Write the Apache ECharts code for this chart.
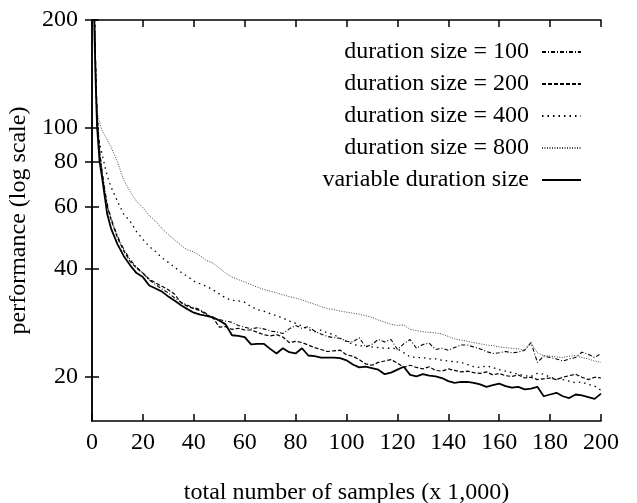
<!DOCTYPE html>
<html>
<head>
<meta charset="utf-8">
<script src="https://cdn.jsdelivr.net/npm/echarts@6/dist/echarts.min.js"></script>
<style>
  html, body { margin: 0; padding: 0; background: #fff; }
  #main { width: 637px; height: 503px; }
</style>
</head>
<body>
<div id="main"></div>
<script>
// sample positions (x 1,000)
var samples = [0.5, 1, 1.5, 2, 3, 4, 5, 6, 7.5,
  10, 12.5, 15, 17.5, 20, 22.5, 25, 27.5, 30, 32.5, 35, 37.5, 40, 42.5, 45, 47.5,
  50, 52.5, 55, 57.5, 60, 62.5, 65, 67.5, 70, 72.5, 75, 77.5, 80, 82.5, 85, 87.5,
  90, 92.5, 95, 97.5, 100, 102.5, 105, 107.5, 110, 112.5, 115, 117.5, 120, 122.5,
  125, 127.5, 130, 132.5, 135, 137.5, 140, 142.5, 145, 147.5, 150, 152.5, 155,
  157.5, 160, 162.5, 165, 167.5, 170, 172.5, 175, 177.5, 180, 182.5, 185, 187.5,
  190, 192.5, 195, 197.5, 200];

var dur100 = [330, 210, 145, 110, 86, 75, 67, 61, 55.5,
  49.5, 45.5, 42.5, 40.5, 39, 37.3, 36.2, 35.2, 34.3, 33.2, 32.3, 31.7, 31.2, 30.8, 30.0, 29.1,
  28.9, 28.6, 28.4, 27.8, 27.5, 27.2, 27.4, 27.2, 26.8, 26.7, 26.4, 27.2, 27.8, 27.3, 27.6, 26.8,
  26.3, 25.9, 25.7, 25.6, 25.1, 25.0, 25.7, 24.2, 24.6, 25.4, 25.0, 25.4, 23.8, 24.7,
  25.4, 24.0, 24.6, 24.8, 23.8, 24.0, 23.7, 24.1, 24.5, 24.5, 24.2, 23.9, 23.5,
  23.2, 23.3, 23.5, 23.3, 23.4, 23.7, 24.9, 21.9, 22.8, 22.6, 22.4, 22.1, 22.4,
  22.6, 23.4, 23.1, 22.6, 23.2];

var dur200 = [320, 200, 140, 108, 85, 74, 66, 60, 55,
  49, 45, 42, 40.3, 39, 37.5, 36.6, 35.8, 35, 34, 32.2, 31.5, 31, 30.6, 29.8, 29.3,
  27.5, 27.6, 27.1, 27.3, 27.0, 27.0, 26.6, 26.2, 26.0, 26.2, 25.8, 24.9, 25.1, 24.9, 24.5, 24.1,
  23.8, 23.5, 23.6, 23.7, 23.0, 22.8, 22.3, 21.7, 21.5, 21.9, 22.1, 22.3, 21.8, 21.2,
  21.5, 21.2, 21.0, 21.3, 20.8, 20.7, 21.0, 20.8, 20.6, 20.7, 20.5, 20.4, 20.6,
  20.2, 20.4, 20.1, 20.0, 20.2, 19.8, 19.9, 19.6, 19.7, 19.8, 19.6, 19.9, 20.1,
  20.3, 19.9, 19.6, 19.9, 19.8];

var dur400 = [380, 220, 130, 100, 90, 84, 78, 73, 68,
  62, 57, 54.5, 51, 48.5, 46.3, 44.8, 43, 41.8, 40.5, 39.2, 38.2, 37.0, 36.4, 35.8, 35.0,
  34.1, 33.2, 32.7, 32.6, 32.3, 31.4, 30.8, 30.5, 30.0, 29.6, 29.2, 28.6, 28.2, 27.7, 27.1, 26.7,
  27.0, 26.5, 26.2, 25.6, 25.1, 24.6, 24.4, 24.3, 24.2, 24.1, 24.0, 24.0, 23.9, 23.3,
  22.7, 22.6, 22.6, 22.4, 22.4, 22.2, 22.1, 22.0, 21.9, 21.6, 21.3, 21.2, 21.4,
  21.2, 20.9, 20.7, 20.5, 20.3, 20.1, 20.0, 20.4, 20.3, 19.9, 19.7, 19.6, 19.4,
  19.2, 19.3, 19.0, 18.8, 18.3];

var dur800 = [230, 170, 125, 110, 103, 98, 95, 92, 88,
  80, 71, 66, 62, 59.5, 56.5, 54.5, 52, 50, 48.3, 46.6, 45.3, 44.7, 43.6, 42.3, 41.6,
  40.3, 39.0, 38.0, 37.4, 36.8, 36.2, 35.6, 35.1, 34.7, 34.3, 33.9, 33.5, 33.2, 32.8, 32.3, 31.9,
  31.4, 31.0, 30.8, 30.5, 30.3, 30.1, 29.9, 29.6, 29.3, 28.8, 28.4, 28.0, 27.8, 27.9,
  27.1, 26.9, 26.7, 26.6, 26.5, 26.3, 25.9, 25.5, 25.3, 25.1, 24.9, 24.7, 24.5,
  24.4, 24.2, 24.1, 24.0, 23.9, 23.7, 24.8, 23.3, 22.9, 22.8, 22.7, 22.6, 22.8,
  22.9, 22.6, 22.4, 22.1, 21.9];

var durVariable = [300, 180, 130, 100, 80, 72, 64, 57, 52,
  47, 43.5, 41, 39, 38, 36, 35.3, 34.6, 33.5, 32.6, 31.7, 30.9, 30.2, 29.8, 29.6, 29.3,
  28.7, 28.0, 26.1, 26.0, 25.8, 24.6, 24.7, 24.7, 23.9, 23.2, 24.0, 23.4, 23.2, 24.0, 22.9, 22.8,
  22.6, 22.6, 22.6, 22.5, 22.2, 21.6, 21.2, 21.3, 21.1, 20.9, 20.3, 20.5, 20.9, 21.3,
  20.2, 20.0, 20.3, 20.1, 20.0, 19.8, 19.4, 19.2, 19.3, 19.3, 19.2, 19.0, 18.7,
  18.9, 19.1, 18.8, 18.6, 18.7, 18.4, 18.5, 18.7, 17.6, 17.8, 18.0, 17.6, 17.4,
  17.8, 17.7, 17.5, 17.3, 17.9];

var yTicks = [20, 40, 60, 80, 100, 200];

var seriesNames = ['duration size = 100', 'duration size = 200', 'duration size = 400',
  'duration size = 800', 'variable duration size'];

function pairs(vals) {
  return samples.map(function (x, i) { return [x, vals[i]]; });
}

var font = 'Liberation Serif';
var fs = 24;
var myChart = echarts.init(document.getElementById('main'));

var xBase = {
  type: 'value',
  min: 0,
  max: 200,
  interval: 20,
  splitLine: { show: false },
  axisLine: { lineStyle: { color: '#000', width: 1.5 } },
  axisTick: { inside: true, length: 7, lineStyle: { color: '#000', width: 1.5 } }
};
var yBase = {
  type: 'log',
  logBase: 10,
  min: 15,
  max: 200,
  splitLine: { show: false },
  minorTick: { show: false },
  axisLine: { show: true, lineStyle: { color: '#000', width: 1.5 } },
  axisTick: { inside: true, length: 7, customValues: yTicks, lineStyle: { color: '#000', width: 1.5 } }
};

var option = {
  animation: false,
  backgroundColor: '#fff',
  grid: { left: 92, right: 36, top: 20, bottom: 82, outerBoundsMode: 'none' },
  legend: {
    orient: 'vertical',
    right: 50,
    top: 35,
    align: 'right',
    itemWidth: 39,
    itemHeight: 14,
    itemGap: 8,
    itemStyle: { opacity: 0 },
    textStyle: { fontFamily: font, fontSize: fs, color: '#000', padding: [0, 8, 0, 0] },
    data: seriesNames
  },
  xAxis: [
    Object.assign({}, xBase, {
      position: 'bottom',
      name: 'total number of samples (x 1,000)',
      nameLocation: 'middle',
      nameGap: 60,
      nameTextStyle: { fontFamily: font, fontSize: fs, color: '#000' },
      axisLabel: { fontFamily: font, fontSize: fs, color: '#000', margin: 10 }
    }),
    Object.assign({}, xBase, { position: 'top', axisLabel: { show: false } })
  ],
  yAxis: [
    Object.assign({}, yBase, {
      position: 'left',
      name: 'performance (log scale)',
      nameLocation: 'middle',
      nameGap: 50,
      nameTextStyle: { fontFamily: font, fontSize: fs, color: '#000' },
      axisLabel: { fontFamily: font, fontSize: fs, color: '#000', margin: 14, customValues: yTicks }
    }),
    Object.assign({}, yBase, { position: 'right', axisLabel: { show: false } })
  ],
  series: [
    {
      name: seriesNames[0], type: 'line', symbol: 'none', data: pairs(dur100),
      lineStyle: { color: '#000', width: 1.1, type: [4, 2, 1, 2] }, itemStyle: { color: '#000' }
    },
    {
      name: seriesNames[1], type: 'line', symbol: 'none', data: pairs(dur200),
      lineStyle: { color: '#000', width: 1.2, type: [4, 2] }, itemStyle: { color: '#000' }
    },
    {
      name: seriesNames[2], type: 'line', symbol: 'none', data: pairs(dur400),
      lineStyle: { color: '#000', width: 1.3, type: [1.5, 4] }, itemStyle: { color: '#000' }
    },
    {
      name: seriesNames[3], type: 'line', symbol: 'none', data: pairs(dur800),
      lineStyle: { color: '#444', width: 1, type: [1, 1.5] }, itemStyle: { color: '#444' }
    },
    {
      name: seriesNames[4], type: 'line', symbol: 'none', data: pairs(durVariable),
      lineStyle: { color: '#000', width: 1.8 }, itemStyle: { color: '#000' }
    }
  ]
};

myChart.setOption(option);
</script>
</body>
</html>
